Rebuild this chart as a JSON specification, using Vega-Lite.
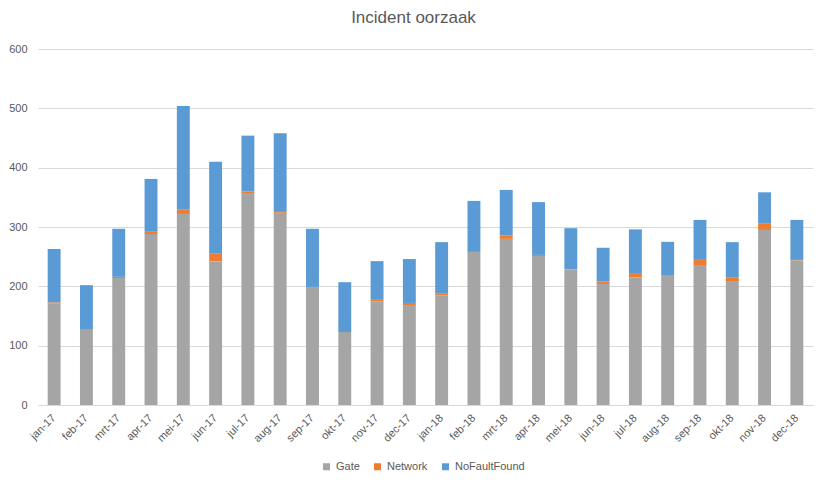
{
  "$schema": "https://vega.github.io/schema/vega-lite/v6.json",
  "width": 775,
  "height": 356,
  "autosize": {"type": "none"},
  "padding": {"left": 38, "top": 49, "right": 14, "bottom": 81},
  "background": "white",
  "title": {
    "text": "Incident oorzaak",
    "font": "Liberation Sans",
    "fontSize": 17,
    "fontWeight": "normal",
    "color": "#595959",
    "anchor": "middle",
    "dx": -12,
    "offset": 16
  },
  "data": {
    "values": [
      {"m": "jan-17", "Gate": 171, "Network": 2, "NoFaultFound": 90},
      {"m": "feb-17", "Gate": 128, "Network": 0, "NoFaultFound": 74},
      {"m": "mrt-17", "Gate": 214, "Network": 2, "NoFaultFound": 81},
      {"m": "apr-17", "Gate": 288, "Network": 5, "NoFaultFound": 88},
      {"m": "mei-17", "Gate": 322, "Network": 7, "NoFaultFound": 175},
      {"m": "jun-17", "Gate": 242, "Network": 13, "NoFaultFound": 155},
      {"m": "jul-17", "Gate": 356, "Network": 4, "NoFaultFound": 94},
      {"m": "aug-17", "Gate": 324, "Network": 3, "NoFaultFound": 131},
      {"m": "sep-17", "Gate": 199, "Network": 0, "NoFaultFound": 98},
      {"m": "okt-17", "Gate": 123, "Network": 0, "NoFaultFound": 84},
      {"m": "nov-17", "Gate": 175, "Network": 3.5, "NoFaultFound": 64},
      {"m": "dec-17", "Gate": 168.5, "Network": 3.5, "NoFaultFound": 74},
      {"m": "jan-18", "Gate": 185, "Network": 2.5, "NoFaultFound": 87},
      {"m": "feb-18", "Gate": 258, "Network": 0, "NoFaultFound": 86},
      {"m": "mrt-18", "Gate": 280, "Network": 5.5, "NoFaultFound": 77},
      {"m": "apr-18", "Gate": 251, "Network": 2, "NoFaultFound": 89},
      {"m": "mei-18", "Gate": 229, "Network": 0, "NoFaultFound": 69},
      {"m": "jun-18", "Gate": 204, "Network": 4, "NoFaultFound": 57},
      {"m": "jul-18", "Gate": 215.5, "Network": 5.5, "NoFaultFound": 75},
      {"m": "aug-18", "Gate": 219, "Network": 0, "NoFaultFound": 56},
      {"m": "sep-18", "Gate": 236, "Network": 10, "NoFaultFound": 66},
      {"m": "okt-18", "Gate": 209, "Network": 5.5, "NoFaultFound": 60},
      {"m": "nov-18", "Gate": 295, "Network": 10.5, "NoFaultFound": 53},
      {"m": "dec-18", "Gate": 244, "Network": 2, "NoFaultFound": 66}
    ]
  },
  "transform": [
    {"fold": ["Gate", "Network", "NoFaultFound"], "as": ["cat", "val"]}
  ],
  "mark": {"type": "bar"},
  "encoding": {
    "x": {
      "field": "m",
      "type": "nominal",
      "sort": null,
      "scale": {"paddingInner": 0.6, "paddingOuter": 0.3},
      "axis": {
        "title": null,
        "labelAngle": -45,
        "labelAlign": "right",
        "labelBaseline": "middle",
        "labelPadding": 11,
        "ticks": false,
        "domainColor": "#d9d9d9",
        "labelColor": "#595959",
        "labelFont": "Liberation Sans",
        "labelFontSize": 11
      }
    },
    "y": {
      "field": "val",
      "type": "quantitative",
      "stack": "zero",
      "scale": {"domain": [0, 600], "nice": false},
      "axis": {
        "title": null,
        "values": [0, 100, 200, 300, 400, 500, 600],
        "domain": false,
        "ticks": false,
        "gridColor": "#d9d9d9",
        "labelPadding": 11,
        "labelColor": "#595959",
        "labelFont": "Liberation Sans",
        "labelFontSize": 11
      }
    },
    "color": {
      "field": "cat",
      "type": "nominal",
      "scale": {
        "domain": ["Gate", "Network", "NoFaultFound"],
        "range": ["#a5a5a5", "#ed7d31", "#5b9bd5"]
      },
      "legend": {
        "title": null,
        "orient": "none",
        "direction": "horizontal",
        "legendX": 283,
        "legendY": 412,
        "symbolType": "square",
        "symbolSize": 49,
        "symbolStrokeWidth": 0,
        "labelColor": "#595959",
        "labelFont": "Liberation Sans",
        "labelFontSize": 11,
        "columnPadding": 12,
        "labelOffset": 4
      }
    },
    "order": {"field": "cat", "sort": "ascending"}
  },
  "config": {
    "view": {"stroke": null}
  }
}
